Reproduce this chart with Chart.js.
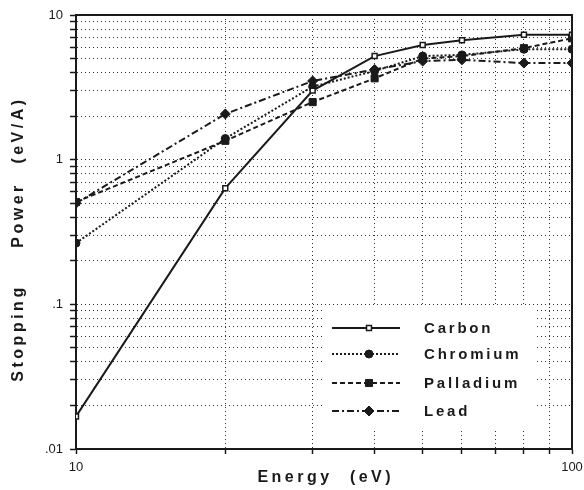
<!DOCTYPE html>
<html><head><meta charset="utf-8">
<script src="https://cdn.jsdelivr.net/npm/chart.js@4/dist/chart.umd.min.js"></script>
<style>html,body{margin:0;padding:0;background:#fff}#wrap{width:584px;height:490px}</style>
</head><body><div id="wrap"><canvas id="c" width="584" height="490"></canvas></div>
<script>
const energies = [10, 20, 30, 40, 50, 60, 80, 100];
const carbon    = [0.0168, 0.635, 3.0, 5.2, 6.2, 6.7, 7.3, 7.3];
const chromium  = [0.265, 1.40, 3.2, 4.1, 5.2, 5.3, 5.8, 5.8];
const palladium = [0.51, 1.35, 2.5, 3.65, 5.0, 5.2, 5.9, 6.9];
const lead      = [0.50, 2.07, 3.5, 4.2, 4.8, 4.9, 4.65, 4.65];
const seriesNames = ["Carbon", "Chromium", "Palladium", "Lead"];
const xGridValues = [10, 20, 30, 40, 50, 60, 70, 80, 90, 100];
const yGridValues = [0.01,0.02,0.03,0.04,0.05,0.06,0.07,0.08,0.09,
                     0.1,0.2,0.3,0.4,0.5,0.6,0.7,0.8,0.9,
                     1,2,3,4,5,6,7,8,9,10];
const xTickLabels = {10: "10", 100: "100"};
const yTickLabels = {"1": "10", "0": "1", "-1": ".1", "-2": ".01"};

const INK = "#1a1a1a";
const FONT = "'Liberation Sans', Arial, sans-serif";
function pts(arr){ return energies.map((e,i)=>({x:e, y:arr[i]})); }

const datasets = [
  {label: seriesNames[0], data: pts(carbon), borderColor: INK, borderWidth: 2, borderDash: [],
   pointStyle: 'rect', pointRadius: 3.5, pointBackgroundColor: '#fff', pointBorderColor: INK, pointBorderWidth: 1.5},
  {label: seriesNames[1], data: pts(chromium), borderColor: INK, borderWidth: 2, borderDash: [2, 2],
   pointStyle: 'circle', pointRadius: 4, pointBackgroundColor: INK, pointBorderColor: INK, pointBorderWidth: 1},
  {label: seriesNames[2], data: pts(palladium), borderColor: INK, borderWidth: 2, borderDash: [5, 3],
   pointStyle: 'rect', pointRadius: 5, pointBackgroundColor: INK, pointBorderColor: INK, pointBorderWidth: 1},
  {label: seriesNames[3], data: pts(lead), borderColor: INK, borderWidth: 2, borderDash: [7, 3, 2, 3],
   pointStyle: 'rectRot', pointRadius: 5, pointBackgroundColor: INK, pointBorderColor: INK, pointBorderWidth: 1}
];

const decor = {
  id: 'decor',
  afterDatasetsDraw(chart){
    const ctx = chart.ctx, a = chart.chartArea;
    ctx.save();
    // frame (top & right)
    ctx.strokeStyle = INK; ctx.lineWidth = 2; ctx.setLineDash([]);
    ctx.beginPath();
    ctx.moveTo(a.left, a.top); ctx.lineTo(a.right, a.top); ctx.lineTo(a.right, a.bottom);
    ctx.stroke();
    // legend box
    const bx = 323, by = 307, bw = 214, bh = 123;
    ctx.fillStyle = '#fff'; ctx.fillRect(bx, by, bw, bh);
    const rows = [328, 354, 383, 411];
    chart.data.datasets.forEach((ds, i) => {
      const y = rows[i];
      ctx.strokeStyle = INK; ctx.lineWidth = 2; ctx.setLineDash(ds.borderDash);
      ctx.beginPath(); ctx.moveTo(332, y); ctx.lineTo(400, y); ctx.stroke();
      ctx.setLineDash([]);
      ctx.fillStyle = ds.pointBackgroundColor; ctx.strokeStyle = ds.pointBorderColor; ctx.lineWidth = ds.pointBorderWidth;
      Chart.helpers.drawPoint(ctx, {pointStyle: ds.pointStyle, radius: ds.pointRadius, borderWidth: ds.pointBorderWidth, rotation: 0}, 369, y);
      ctx.fillStyle = INK; ctx.font = "bold 15px " + FONT; ctx.textAlign = 'left'; ctx.textBaseline = 'middle';
      ctx.letterSpacing = '2.8px';
      ctx.fillText(ds.label, 424, y + 1);
    });
    // axis titles
    ctx.fillStyle = INK; ctx.font = "bold 16px " + FONT; ctx.letterSpacing = '3.5px';
    ctx.textAlign = 'center'; ctx.textBaseline = 'middle';
    ctx.fillText("Energy", 295, 478);
    ctx.fillText("(eV)", 372, 478);
    ctx.translate(19, 0); ctx.rotate(-Math.PI/2);
    ctx.fillText("Stopping", -333, 0);
    ctx.fillText("Power", -215, 0);
    ctx.fillText("(eV/A)", -130, 0);
    ctx.restore();
  }
};

new Chart(document.getElementById('c'), {
  type: 'line',
  data: {datasets},
  plugins: [decor],
  options: {
    responsive: false, animation: false, devicePixelRatio: 1,
    layout: {padding: {left: 0, top: 15, right: 12, bottom: 0}},
    plugins: {legend: {display: false}, tooltip: {enabled: false}},
    elements: {line: {tension: 0, fill: false}},
    scales: {
      x: {
        type: 'logarithmic', min: 10, max: 100,
        afterFit(s){ s.height = 41; s.paddingRight = 0; s.paddingLeft = 0; },
        afterBuildTicks(s){ s.ticks = xGridValues.map(v => ({value: v})); },
        border: {display: true, color: INK, width: 2, dash: [1, 3]},
        grid: {color: '#333', lineWidth: 1, drawTicks: true, tickLength: 5,
               tickColor: INK, tickWidth: 1.5, tickBorderDash: []},
        ticks: {autoSkip: false, maxRotation: 0, padding: 6, color: INK, font: {family: FONT, size: 13},
                callback: (v) => xTickLabels[Math.round(v)] !== undefined && Math.abs(v - Math.round(v)) < 1e-6 ? xTickLabels[Math.round(v)] : ''}
      },
      y: {
        type: 'logarithmic', min: 0.01, max: 10,
        afterFit(s){ s.width = 76; s.paddingTop = 0; s.paddingBottom = 0; },
        afterBuildTicks(s){ s.ticks = yGridValues.map(v => ({value: v})); },
        border: {display: true, color: INK, width: 2, dash: [1, 3]},
        grid: {color: '#333', lineWidth: 1, drawTicks: true, tickLength: 6,
               tickColor: INK, tickWidth: 1.5, tickBorderDash: []},
        ticks: {autoSkip: false, padding: 7, color: INK, font: {family: FONT, size: 13},
                callback: (v) => { const l = Math.log10(v); const r = Math.round(l);
                  return Math.abs(l - r) < 1e-6 && yTickLabels[String(r)] !== undefined ? yTickLabels[String(r)] : ''; }}
      }
    }
  }
});
</script></body></html>
